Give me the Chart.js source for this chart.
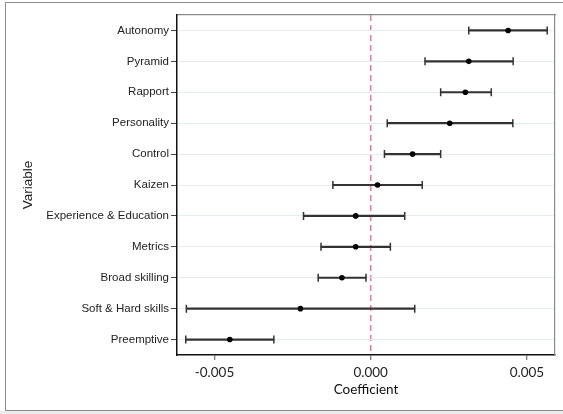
<!DOCTYPE html>
<html>
<head>
<meta charset="utf-8">
<script src="https://cdn.jsdelivr.net/npm/chart.js@4"></script>
<style>
  html, body { margin: 0; padding: 0; background: #ffffff; }
  #wrap { position: relative; width: 563px; height: 414px; overflow: hidden; background: #fff; }
  #frame { position: absolute; left: 5px; top: 2px; width: 600px; height: 407px;
           border-left: 1px solid #8c8c8c; border-top: 1px solid #8c8c8c; border-bottom: 2px solid #8c8c8c; }
  #under { position: absolute; left: 0; top: 411px; width: 563px; height: 3px; background: #ececec; }
  canvas { position: absolute; left: 0; top: 0; }
</style>
</head>
<body>
<div id="wrap">
  <canvas id="c" width="563" height="414"></canvas>
  <div id="frame"></div>
  <div id="under"></div>
</div>
<script>
const categories = ["Autonomy", "Pyramid", "Rapport", "Personality", "Control", "Kaizen",
  "Experience & Education", "Metrics", "Broad skilling", "Soft & Hard skills", "Preemptive"];
const coefficient = [0.00440, 0.00314, 0.00303, 0.00253, 0.00134, 0.00022,
  -0.00048, -0.00048, -0.00092, -0.00225, -0.00451];
const lowerCI = [0.00314, 0.00174, 0.00224, 0.00053, 0.00044, -0.00121,
  -0.00215, -0.00159, -0.00168, -0.00590, -0.00592];
const upperCI = [0.00565, 0.00456, 0.00386, 0.00455, 0.00224, 0.00165,
  0.00109, 0.00063, -0.00015, 0.00141, -0.00310];
const xTickValues = [-0.005, 0.0, 0.005];
const xTitle = "Coefficient";
const yTitle = "Variable";

const barColor = "#333333";
const whiskers = categories.map((c, i) => [lowerCI[i], upperCI[i]]);
const capPoints = [];
categories.forEach((c, i) => {
  capPoints.push({ x: lowerCI[i], y: c });
  capPoints.push({ x: upperCI[i], y: c });
});
const estPoints = categories.map((c, i) => ({ x: coefficient[i], y: c }));

new Chart(document.getElementById("c"), {
  type: "bar",
  data: {
    labels: categories,
    datasets: [
      {
        label: "CI",
        data: whiskers,
        backgroundColor: barColor,
        borderWidth: 0,
        barThickness: 1.5,
        order: 3
      },
      {
        type: "scatter",
        label: "caps",
        data: capPoints,
        pointStyle: "line",
        rotation: 90,
        radius: 4,
        borderColor: barColor,
        borderWidth: 1.5,
        order: 2
      },
      {
        type: "scatter",
        label: "estimate",
        data: estPoints,
        pointStyle: "circle",
        radius: 2.8,
        backgroundColor: "#000000",
        borderColor: "#000000",
        borderWidth: 0,
        order: 1
      }
    ]
  },
  options: {
    indexAxis: "y",
    responsive: false,
    animation: false,
    layout: { padding: { left: 0, right: 8, top: 15, bottom: 0 } },
    plugins: { legend: { display: false }, tooltip: { enabled: false } },
    scales: {
      x: {
        type: "linear",
        position: "bottom",
        min: -0.0062,
        max: 0.0059,
        afterBuildTicks: (scale) => { scale.ticks = xTickValues.map(v => ({ value: v })); },
        afterFit: (scale) => { scale.height = 59; },
        ticks: {
          callback: (v) => Number(v).toFixed(3),
          color: "#222",
          font: { family: "Lato", size: 13.5 },
          padding: 5,
          maxRotation: 0
        },
        grid: {
          color: (ctx) => (ctx.tick && ctx.tick.value === 0) ? "#d9819f" : "rgba(0,0,0,0)",
          lineWidth: 1.5,
          tickColor: "#555",
          tickLength: 5,
          tickWidth: 1,
          tickBorderDash: []
        },
        border: { display: true, color: "#111", width: 1.5, dash: [6, 4] },
        title: {
          display: true,
          text: xTitle,
          color: "#111",
          font: { family: "Lato", size: 13.5, lineHeight: 1 },
          padding: { top: 0, bottom: 18 }
        }
      },
      x2: {
        type: "linear",
        position: "top",
        min: -0.0062,
        max: 0.0059,
        afterFit: (scale) => { scale.height = 0; },
        ticks: { display: false },
        grid: { display: false, drawTicks: false },
        border: { display: true, color: "#8a8a8a", width: 1.2 }
      },
      y: {
        type: "category",
        position: "left",
        offset: true,
        afterFit: (scale) => { scale.width = 177; },
        ticks: {
          color: "#222",
          font: { family: "Liberation Sans", size: 11.5 },
          padding: 2
        },
        grid: {
          offset: false,
          color: "#e4ecf2",
          lineWidth: 1,
          tickColor: "#444",
          tickLength: 6,
          tickWidth: 1
        },
        border: { display: true, color: "#111", width: 1.5 },
        title: {
          display: true,
          text: yTitle,
          color: "#222",
          font: { family: "Liberation Sans", size: 13.5, lineHeight: 1 },
          padding: { top: 22, bottom: 0 }
        }
      },
      y2: {
        type: "category",
        position: "right",
        labels: categories,
        offset: true,
        afterFit: (scale) => { scale.width = 0; },
        ticks: { display: false },
        grid: { display: false, drawTicks: false },
        border: { display: true, color: "#8a8a8a", width: 1.2 }
      }
    }
  }
});
</script>
</body>
</html>
